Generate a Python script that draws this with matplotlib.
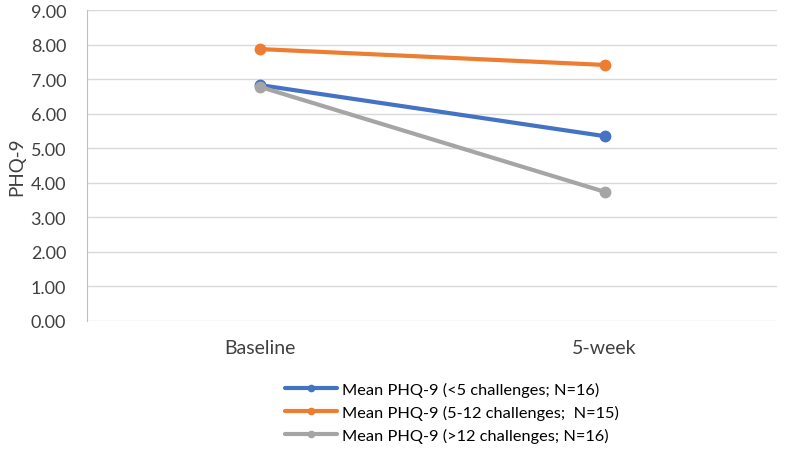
import numpy as np
import matplotlib.pyplot as plt
from matplotlib.lines import Line2D

plt.rcParams['font.family'] = ['Lato', 'DejaVu Sans']

# data
categories = ['Baseline', '5-week']
low_vals = [6.83, 5.35]
mid_vals = [7.87, 7.41]
high_vals = [6.78, 3.74]
labels = ['Mean PHQ-9 (<5 challenges; N=16)',
          'Mean PHQ-9 (5-12 challenges;  N=15)',
          'Mean PHQ-9 (>12 challenges; N=16)']
colors = ['#4472C4', '#ED7D31', '#A5A5A5']

fig = plt.figure(figsize=(7.85, 4.56), dpi=100)
ax = fig.add_axes([87 / 785, 1 - 322 / 456, 690 / 785, 311 / 456])

x = np.arange(len(categories))
for vals, lab, c in zip([low_vals, mid_vals, high_vals], labels, colors):
    ax.plot(x, vals, color=c, lw=3, marker='o', markersize=7.5,
            solid_capstyle='round', label=lab)

ax.set_xlim(-0.5, 1.5)
ax.set_ylim(0, 9)
ax.set_yticks(np.arange(0, 10, 1))
ax.set_yticklabels(['%.2f' % v for v in np.arange(0, 10, 1)])
ax.set_xticks(x)
ax.set_xticklabels(categories)
ax.grid(axis='y', color='#D9D9D9', lw=1)
ax.set_axisbelow(True)
for s in ['top', 'right', 'bottom']:
    ax.spines[s].set_visible(False)
ax.spines['left'].set_color('#BFBFBF')
ax.tick_params(axis='both', length=0, colors='#404040')
ax.tick_params(axis='y', pad=15, labelsize=13)
ax.tick_params(axis='x', pad=13, labelsize=14)
ax.set_ylabel('PHQ-9', fontsize=13.5, color='#404040', labelpad=4)

# legend handles with small markers like the original
handles = [Line2D([], [], color=c, lw=3, marker='o', markersize=4.5,
                  solid_capstyle='round') for c in colors]
fig.legend(handles, labels, loc='upper left',
           bbox_to_anchor=(278 / 785, 1 - 376 / 456),
           frameon=False, fontsize=11.8, handlelength=3.2, handletextpad=0.3,
           labelspacing=0.5, borderaxespad=0)

fig.savefig('out.png', dpi=100)
